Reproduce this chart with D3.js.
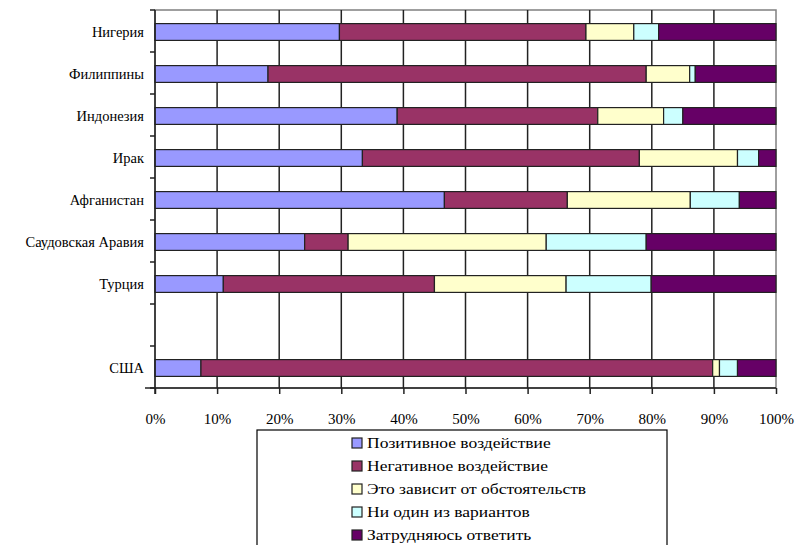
<!DOCTYPE html>
<html><head><meta charset="utf-8">
<script src="https://cdn.jsdelivr.net/npm/d3@7"></script>
<style>html,body{margin:0;padding:0;background:#fff}</style>
</head><body>
<svg id="c" width="796" height="545"></svg>
<script>
const categories = ["Нигерия","Филиппины","Индонезия","Ирак","Афганистан","Саудовская Аравия","Турция","","США"];
const seriesNames = ["Позитивное воздействие","Негативное воздействие","Это зависит от обстоятельств","Ни один из вариантов","Затрудняюсь ответить"];
const seriesColors = ["#9999FF","#993366","#FFFFCC","#CCFFFF","#660066"];
const positive  = [29.7, 18.2, 39.0, 33.4, 46.6, 24.1, 11.0, null, 7.4];
const negative  = [39.7, 60.9, 32.3, 44.6, 19.8,  7.0, 34.0, null, 82.4];
const depends   = [ 7.7,  7.0, 10.6, 15.8, 19.8, 31.9, 21.2, null,  1.1];
const neither   = [ 4.0,  0.9,  3.1,  3.4,  7.9, 16.1, 13.7, null,  2.9];
const difficult = [18.9, 13.0, 15.0,  2.8,  5.9, 20.9, 20.1, null,  6.2];
const xTicks = [0,10,20,30,40,50,60,70,80,90,100];

const series = [positive, negative, depends, neither, difficult];
const svg = d3.select("#c");
const L = 155, R = 776, T = 10, B = 388;
const x = d3.scaleLinear().domain([0,100]).range([L,R]);
const y = d3.scaleBand().domain(categories.map((c,i)=>i)).range([T,B]).paddingInner(0.6).paddingOuter(0.3);
const font = "'Liberation Serif','Times New Roman',serif";

svg.append("rect").attr("x",L).attr("y",T).attr("width",R-L).attr("height",B-T)
  .attr("fill","#fff").attr("stroke","#808080").attr("stroke-width",1.5);

svg.append("g").selectAll("line").data(xTicks.slice(1,-1)).join("line")
  .attr("x1",d=>x(d)).attr("x2",d=>x(d)).attr("y1",T).attr("y2",B)
  .attr("stroke","#222").attr("stroke-width",1.5);

const rows = categories.map((c,i)=>{
  let acc=0; const segs=[];
  series.forEach((s,k)=>{ if(s[i]==null) return; segs.push({i,k,x0:acc,x1:acc+s[i]}); acc+=s[i]; });
  return segs;
}).flat();
svg.append("g").selectAll("rect").data(rows).join("rect")
  .attr("x",d=>x(d.x0)).attr("width",d=>x(d.x1)-x(d.x0))
  .attr("y",d=>y(d.i)+1).attr("height",y.bandwidth())
  .attr("fill",d=>seriesColors[d.k]).attr("stroke","#222").attr("stroke-width",1.2);

const xa = svg.append("g").attr("transform",`translate(0,${B})`)
  .call(d3.axisBottom(x).tickValues(xTicks).tickFormat(d=>d+"%").tickSize(6).tickPadding(19));
xa.select(".domain").attr("stroke","#222").attr("stroke-width",1.5).attr("d",`M${L-10},0H${R}`);
xa.selectAll(".tick line").attr("stroke","#222").attr("stroke-width",1.5);
xa.selectAll("text").attr("font-family",font).attr("font-size",15).attr("fill","#000");

const ya = svg.append("g").attr("transform",`translate(${L},0)`);
ya.append("line").attr("x1",0).attr("x2",0).attr("y1",T).attr("y2",B+6).attr("stroke","#222").attr("stroke-width",1.5);
const step = y.step();
ya.selectAll("line.t").data(d3.range(categories.length+1)).join("line").attr("class","t")
  .attr("x1",-5).attr("x2",0).attr("y1",d=>T+d*step).attr("y2",d=>T+d*step)
  .attr("stroke","#222").attr("stroke-width",1.5);
ya.selectAll("text").data(categories).join("text")
  .attr("x",-11).attr("y",(d,i)=>y(i)+y.bandwidth()/2+1).attr("dy","0.35em")
  .attr("text-anchor","end").attr("font-family",font).attr("font-size",14.5).attr("fill","#000")
  .text(d=>d);

const lg = svg.append("g");
lg.append("rect").attr("x",257).attr("y",430).attr("width",410).attr("height",130)
  .attr("fill","#fff").attr("stroke","#000").attr("stroke-width",1.2);
const ly = d3.scalePoint().domain(seriesNames).range([443,535]);
const items = lg.selectAll("g.it").data(seriesNames).join("g").attr("class","it")
  .attr("transform",d=>`translate(352,${ly(d)})`);
items.append("rect").attr("x",0).attr("y",-5).attr("width",10).attr("height",10)
  .attr("fill",(d,i)=>seriesColors[i]).attr("stroke","#222").attr("stroke-width",1.2);
items.append("text").attr("transform","translate(15,0) scale(1.13,1)").attr("dy","0.35em")
  .attr("font-family",font).attr("font-size",15.5).attr("fill","#000").text(d=>d);
</script>
</body></html>
